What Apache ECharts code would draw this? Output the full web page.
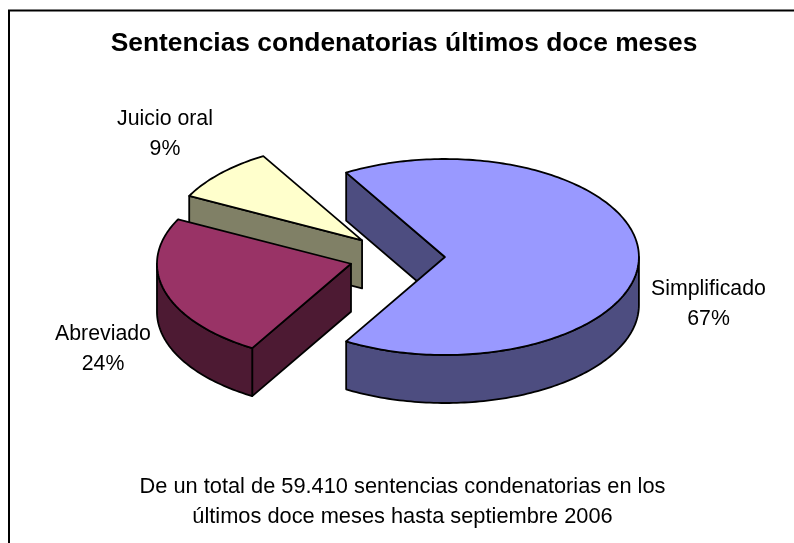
<!DOCTYPE html>
<html>
<head>
<meta charset="utf-8">
<style>
  html, body { margin: 0; padding: 0; background: #fff; }
  #chart { width: 794px; height: 543px; }
</style>
<script src="https://cdn.jsdelivr.net/npm/echarts@6/dist/echarts.min.js"></script>
</head>
<body>
<div id="chart"></div>
<script>
// chart data
const categories = ['Simplificado', 'Abreviado', 'Juicio oral']
const values = [67, 24, 9]
const titleText = 'Sentencias condenatorias últimos doce meses'
const footerLines = [
  'De un total de 59.410 sentencias condenatorias en los',
  'últimos doce meses hasta septiembre 2006'
]

// look
const topColors = ['#9999ff', '#993366', '#ffffcc']
const wallColors = ['#4d4d80', '#4d1a33', '#808066']
const labelCenters = [[708.5, 304], [103, 349], [165, 134]]
const font = '"Liberation Sans", Arial, sans-serif'

// the pie is an ellipse with depth, slices pushed out from a common centre
const pie = { cx: 397, cy: 257, rx: 194, ry: 98, depth: 48, explode: 0.247 }

const total = values.reduce((a, b) => a + b, 0)
const startAngle = -values[0] / total * Math.PI // first slice is centred on the right

function arcPoints(cx, cy, from, to, dy) {
  const pts = []
  const steps = Math.max(2, Math.ceil((to - from) / 0.02))
  for (let i = 0; i <= steps; i++) {
    const a = from + (to - from) * i / steps
    pts.push([cx + pie.rx * Math.cos(a), cy + dy + pie.ry * Math.sin(a)])
  }
  return pts
}

function poly(points, fill, z2) {
  return {
    type: 'polygon',
    z2,
    shape: { points },
    style: { fill, stroke: '#000', lineWidth: 1.8, lineJoin: 'round' }
  }
}

function renderSlice(params, api) {
  const i = params.dataIndex
  const before = values.slice(0, i).reduce((a, b) => a + b, 0)
  const from = startAngle + before / total * Math.PI * 2
  const to = from + api.value(0) / total * Math.PI * 2
  const mid = (from + to) / 2
  const cx = pie.cx + pie.rx * pie.explode * Math.cos(mid)
  const cy = pie.cy + pie.ry * pie.explode * Math.sin(mid)
  const d = pie.depth
  const base = (values.length - i) * 10 // later slices sit behind
  const children = []

  // cut faces that look towards the viewer
  ;[[from, -1], [to, 1]].forEach(([a, side]) => {
    if (Math.sin(a + side * Math.PI / 2) > 0) {
      const x = cx + pie.rx * Math.cos(a)
      const y = cy + pie.ry * Math.sin(a)
      children.push(poly([[cx, cy], [x, y], [x, y + d], [cx, cy + d]], wallColors[i], base))
    }
  })

  // outer wall, only the part on the front half
  const wallFrom = Math.max(from, 0)
  const wallTo = Math.min(to, Math.PI)
  if (wallTo > wallFrom) {
    const front = arcPoints(cx, cy, wallFrom, wallTo, 0)
    const back = arcPoints(cx, cy, wallFrom, wallTo, d).reverse()
    children.push(poly(front.concat(back), wallColors[i], base + 1))
  }

  // top face
  children.push(poly([[cx, cy]].concat(arcPoints(cx, cy, from, to, 0)), topColors[i], base + 2))

  // label
  const pct = Math.round(api.value(0) / total * 100) + '%'
  children.push({
    type: 'text',
    z2: 100,
    style: {
      x: labelCenters[i][0],
      y: labelCenters[i][1],
      text: categories[i] + '\n' + pct,
      align: 'center',
      verticalAlign: 'middle',
      lineHeight: 30,
      fontFamily: font,
      fontSize: 21.3,
      fill: '#000'
    }
  })

  return { type: 'group', children }
}

const chart = echarts.init(document.getElementById('chart'), null, { renderer: 'canvas' })
chart.setOption({
  animation: false,
  backgroundColor: '#fff',
  graphic: [
    {
      type: 'polyline',
      shape: { points: [[9, 543], [9, 10.5], [794, 10.5]] },
      style: { fill: 'none', stroke: '#000', lineWidth: 2 },
      silent: true
    },
    {
      type: 'text',
      style: {
        x: 404,
        y: 44,
        text: titleText,
        align: 'center',
        verticalAlign: 'middle',
        fontFamily: font,
        fontSize: 26.4,
        fontWeight: 'bold',
        fill: '#000'
      }
    },
    {
      type: 'text',
      style: {
        x: 402.5,
        y: 502,
        text: footerLines.join('\n'),
        align: 'center',
        verticalAlign: 'middle',
        lineHeight: 30,
        fontFamily: font,
        fontSize: 21.8,
        fill: '#000'
      }
    }
  ],
  series: [{
    type: 'custom',
    coordinateSystem: 'none',
    renderItem: renderSlice,
    data: values.map((v, i) => ({ name: categories[i], value: [v] }))
  }]
})
</script>
</body>
</html>
